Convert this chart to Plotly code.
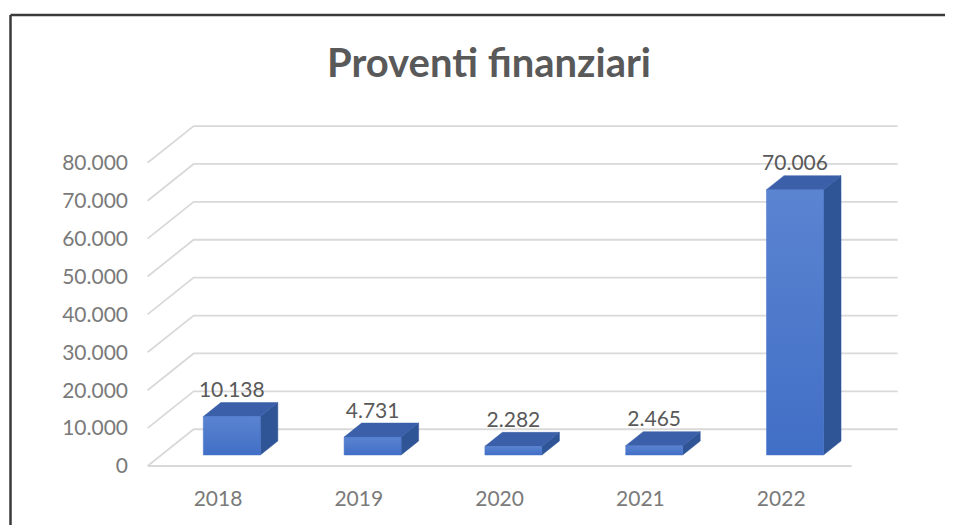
import plotly.graph_objects as go

# ---- data ----
years = ["2018", "2019", "2020", "2021", "2022"]
values = [10138, 4731, 2282, 2465, 70006]
tick_values = [0, 10000, 20000, 30000, 40000, 50000, 60000, 70000, 80000]
tick_labels = ["0", "10.000", "20.000", "30.000", "40.000", "50.000", "60.000", "70.000", "80.000"]
title_text = "Proventi finanziari"

def fmt(v):
    return f"{v:,}".replace(",", ".")

# ---- pseudo-3D geometry (style) ----
DX = 0.327      # depth shift in x units
DY = 9700       # depth shift in y units
W = 0.405       # bar width
F0, F1 = 0.30, 0.68  # bar depth (front/back fraction of floor depth)

OFF = 8  # page body margin
W_FIG, H_FIG = 953 - OFF, 525 - OFF
X0, XS = 218 - OFF, 140.8      # pixel of category 0 (front), px per category
Y0, YS = 466 - OFF, 37.9       # pixel of value 0 (front), px per 10000
L, R, T, B = 121, W_FIG, 0, 476
x_range = [(L - X0) / XS, (R - X0) / XS]
y_range = [(Y0 - B) / YS * 10000, (Y0 - T) / YS * 10000]

fig = go.Figure()

# gridlines: diagonals on side wall + back wall lines + floor front edge
gx, gy = [], []
x_left = -0.5
x_right = len(years) - 0.5
for v in tick_values:
    gx += [x_left, x_left + DX, x_right + DX, None]
    gy += [v, v + DY, v + DY, None]
gx += [x_left, x_right, None]
gy += [0, 0, None]
fig.add_trace(go.Scatter(x=gx, y=gy, mode="lines",
                         line=dict(color="#d9d9d9", width=1.8),
                         hoverinfo="skip", showlegend=False))

front_col = "#4673c8"
side_col = "#2f5597"
top_col = "#3b5fa8"

lab_x, lab_y, lab_t = [], [], []
for i, v in enumerate(values):
    xf0 = i + F0 * DX - W / 2
    xf1 = xf0 + W
    yb0 = F0 * DY
    yt0 = v + F0 * DY
    dxb = (F1 - F0) * DX
    dyb = (F1 - F0) * DY
    # side face
    fig.add_trace(go.Scatter(
        x=[xf1, xf1 + dxb, xf1 + dxb, xf1, xf1],
        y=[yb0, yb0 + dyb, yt0 + dyb, yt0, yb0],
        fill="toself", fillcolor=side_col, mode="lines",
        line=dict(color=side_col, width=0.5),
        hoverinfo="skip", showlegend=False))
    # top face
    fig.add_trace(go.Scatter(
        x=[xf0, xf1, xf1 + dxb, xf0 + dxb, xf0],
        y=[yt0, yt0, yt0 + dyb, yt0 + dyb, yt0],
        fill="toself", fillcolor=top_col, mode="lines",
        line=dict(color=top_col, width=0.5),
        hoverinfo="skip", showlegend=False))
    # front face
    fig.add_trace(go.Scatter(
        x=[xf0, xf1, xf1, xf0, xf0],
        y=[yb0, yb0, yt0, yt0, yb0],
        fill="toself",
        fillgradient=dict(type="vertical",
                          colorscale=[[0, "#416fc6"], [1, "#5b84d1"]]),
        mode="lines", line=dict(color=front_col, width=0.5),
        hoverinfo="skip", showlegend=False))
    lab_x.append(xf0 + W / 2)
    lab_y.append(v + F1 * DY)
    lab_t.append(fmt(v))

fig.add_trace(go.Scatter(x=lab_x, y=lab_y, mode="text", text=lab_t,
                         textposition="top center",
                         textfont=dict(family="Lato", size=21, color="#595959"),
                         hoverinfo="skip", showlegend=False))

# frame lines (top and left border of the chart box)
def px_to_paper_x(px):
    return (px - L) / (R - L)

def py_to_paper_y(py):
    return (B - py) / (B - T)

BX, BY = 10.5 - OFF, 15 - OFF
fig.add_shape(type="line", xref="paper", yref="paper",
              x0=px_to_paper_x(BX), x1=px_to_paper_x(W_FIG + 5),
              y0=py_to_paper_y(BY), y1=py_to_paper_y(BY),
              line=dict(color="#3a3a3a", width=2.5))
fig.add_shape(type="line", xref="paper", yref="paper",
              x0=px_to_paper_x(BX), x1=px_to_paper_x(BX),
              y0=py_to_paper_y(BY), y1=py_to_paper_y(H_FIG + 5),
              line=dict(color="#3a3a3a", width=2.5))

fig.update_layout(
    width=W_FIG, height=H_FIG,
    margin=dict(l=L, r=W_FIG - R, t=T, b=H_FIG - B, autoexpand=False),
    paper_bgcolor="white", plot_bgcolor="white",
    title=dict(text=title_text, x=(489 - OFF) / W_FIG, xanchor="center",
               y=1 - (63 - OFF) / H_FIG, yanchor="middle", xref="container", yref="container",
               font=dict(family="Lato", size=40, color="#595959", weight="bold")),
    xaxis=dict(range=x_range, showgrid=False, zeroline=False, showline=False,
               tickmode="array", tickvals=list(range(len(years))), ticktext=years,
               tickfont=dict(family="Lato", size=21, color="#7a7a7a"),
               fixedrange=True),
    yaxis=dict(range=y_range, showgrid=False, zeroline=False, showline=False,
               tickmode="array", tickvals=tick_values, ticktext=tick_labels,
               tickfont=dict(family="Lato", size=21, color="#7a7a7a"),
               fixedrange=True),
    showlegend=False,
)

fig.write_html("out.html")
